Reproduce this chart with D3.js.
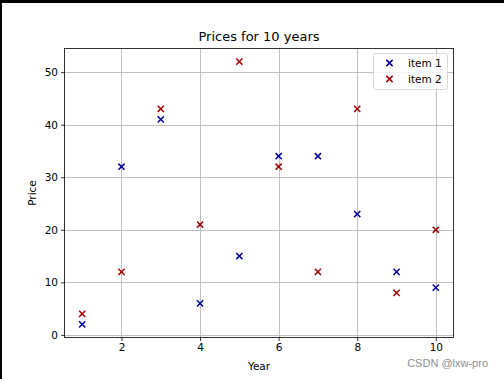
<!DOCTYPE html>
<html><head><meta charset="utf-8">
<script src="https://cdn.jsdelivr.net/npm/d3@7"></script>
<style>body{margin:0;background:#fff;}svg{display:block;font-family:"DejaVu Sans",sans-serif;}</style>
</head><body><svg id="c" width="504" height="379"></svg>
<script>
const years = [1,2,3,4,5,6,7,8,9,10];
const item1 = [2,32,41,6,15,34,34,23,12,9];
const item2 = [4,12,43,21,52,32,12,43,8,20];
const xTicks = [2,4,6,8,10];
const yTicks = [0,10,20,30,40,50];
const seriesNames = ["item 1","item 2"];
const colors = ["#0000a0","#a00000"];

const svg = d3.select("#c");
const L=64.5, R=453.5, T=48.5, B=337.5;
const x = d3.scaleLinear().domain([0.55,10.45]).range([L,R]);
const y = d3.scaleLinear().domain([-0.5,54.5]).range([B,T]);

// frame artifacts
svg.append("rect").attr("x",0).attr("y",0).attr("width",504).attr("height",3).attr("fill","#000");
svg.append("rect").attr("x",0).attr("y",0).attr("width",2).attr("height",379).attr("fill","#000");

// grid
svg.append("g").selectAll("line").data(xTicks).join("line")
  .attr("x1",d=>Math.round(x(d))+0.5).attr("x2",d=>Math.round(x(d))+0.5).attr("y1",T).attr("y2",B)
  .attr("stroke","#b0b0b0").attr("stroke-width",0.8);
svg.append("g").selectAll("line").data(yTicks).join("line")
  .attr("y1",d=>Math.round(y(d))+0.5).attr("y2",d=>Math.round(y(d))+0.5).attr("x1",L).attr("x2",R)
  .attr("stroke","#b0b0b0").attr("stroke-width",0.8);

// axes
const xa = svg.append("g").attr("transform",`translate(0,${B})`)
  .call(d3.axisBottom(x).tickValues(xTicks).tickSize(3.5).tickPadding(3).tickFormat(d3.format("d")));
const ya = svg.append("g").attr("transform",`translate(${L},0)`)
  .call(d3.axisLeft(y).tickValues(yTicks).tickSize(3.5).tickPadding(3).tickFormat(d3.format("d")));
[xa,ya].forEach(a=>{a.select(".domain").remove();
  a.selectAll("text").attr("font-size",10.5).attr("fill","#000").attr("font-family","DejaVu Sans");
  a.selectAll("line").attr("stroke","#000").attr("stroke-width",0.8);});

svg.append("rect").attr("x",L).attr("y",T).attr("width",R-L).attr("height",B-T)
  .attr("fill","none").attr("stroke","#000").attr("stroke-width",0.8);

// markers
function xmark(g, cx, cy, color, s){
  g.append("path").attr("d",`M${cx-s},${cy-s}L${cx+s},${cy+s}M${cx-s},${cy+s}L${cx+s},${cy-s}`)
   .attr("stroke",color).attr("stroke-width",1.5).attr("fill","none");
}
const series=[item1,item2];
series.forEach((vals,i)=>{
  const g = svg.append("g");
  vals.forEach((v,j)=>xmark(g, x(years[j]), y(v), colors[i], 3.1));
});

// title & labels
svg.append("text").attr("x",(L+R)/2).attr("y",41).attr("text-anchor","middle")
  .attr("font-size",13).text("Prices for 10 years");
svg.append("text").attr("x",(L+R)/2).attr("y",370).attr("text-anchor","middle")
  .attr("font-size",10.5).text("Year");
svg.append("text").attr("transform",`translate(36,${(T+B)/2}) rotate(-90)`).attr("text-anchor","middle")
  .attr("font-size",10.5).text("Price");

// legend
const lg = svg.append("g");
lg.append("rect").attr("x",373.5).attr("y",53.5).attr("width",74).attr("height",36).attr("rx",2)
  .attr("fill","#fff").attr("fill-opacity",0.8).attr("stroke","#d0d0d0").attr("stroke-width",0.8);
seriesNames.forEach((n,i)=>{
  xmark(lg, 389.5, 63+i*16, colors[i], 3.1);
  lg.append("text").attr("x",408).attr("y",66.5+i*16).attr("font-size",10.5).text(n);
});

// watermark
svg.append("text").attr("x",488).attr("y",367).attr("text-anchor","end")
  .attr("font-family","Liberation Sans, Arial, sans-serif").attr("font-size",11).attr("fill","#8f8f8f")
  .text("CSDN @lxw-pro");
</script></body></html>
